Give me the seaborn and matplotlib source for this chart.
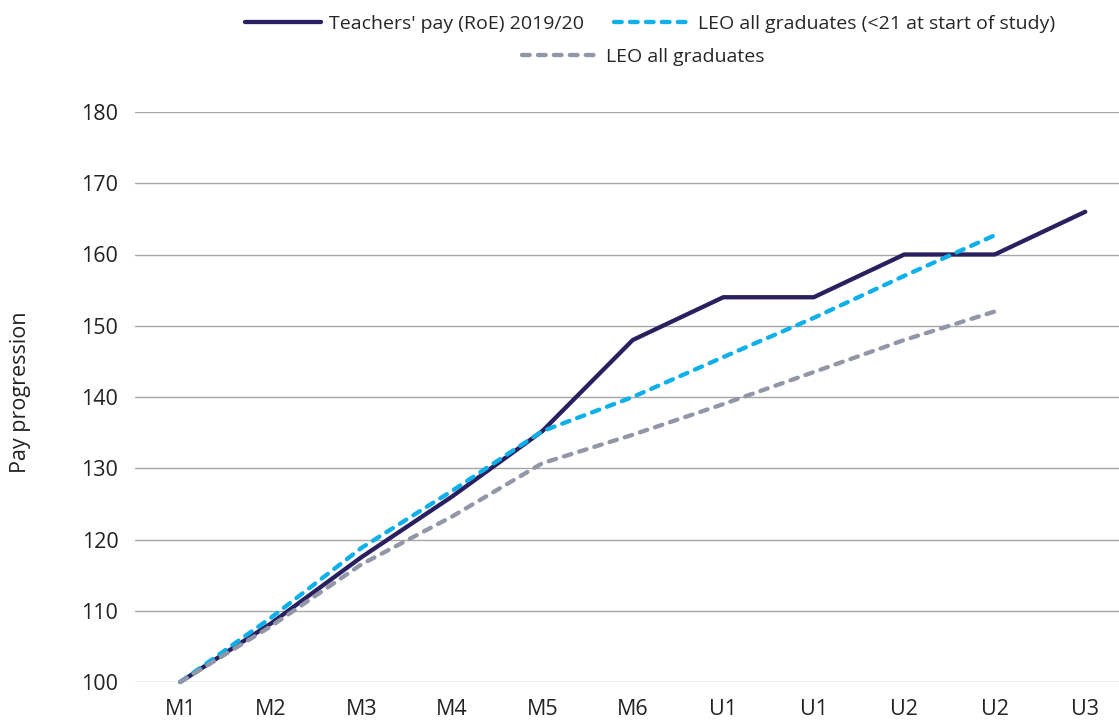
import matplotlib
matplotlib.use("Agg")
import matplotlib.pyplot as plt
import seaborn as sns
import pandas as pd

grades = ["M1", "M2", "M3", "M4", "M5", "M6", "U1", "U1", "U2", "U2", "U3"]
teachers_pay = [100, 108.2, 117.5, 126, 135.2, 148, 154, 154, 160, 160, 166]
leo_under21 = [100, 109, 118.8, 126.8, 135.2, 140, 145.6, 151.1, 157, 162.7]
leo_all = [100, 107.8, 116.5, 123.2, 130.7, 134.7, 139, 143.5, 148, 152]

names = ["Teachers' pay (RoE) 2019/20",
         "LEO all graduates (<21 at start of study)",
         "LEO all graduates"]
colors = {names[0]: "#2a1f5f", names[1]: "#0db0e8", names[2]: "#9396a6"}
dashes = {names[0]: "", names[1]: (1.8, 1.9), names[2]: (1.8, 1.9)}

rows = []
for name, vals in zip(names, [teachers_pay, leo_under21, leo_all]):
    for i, v in enumerate(vals):
        rows.append({"pos": i, "value": v, "series": name})
df = pd.DataFrame(rows)

sns.set_style("white")
plt.rcParams["font.family"] = ["Open Sans", "DejaVu Sans"]
fs = 15.5
leg_fs = 14

fig = plt.figure(figsize=(11.19, 7.2), dpi=100)
ax = fig.add_axes([135 / 1119, 38 / 720, 995.5 / 1119, 570 / 720])

sns.lineplot(data=df, x="pos", y="value", hue="series", style="series",
             palette=colors, dashes=dashes, linewidth=3.1, legend=False,
             ax=ax, sort=False)

for line in ax.lines:
    line.set_dash_capstyle("round")
    line.set_solid_capstyle("round")
    line.set_clip_on(False)

ax.set_xlim(-0.5, len(grades) - 0.5)
ax.set_ylim(100, 180)
ax.set_yticks(range(100, 181, 10))
ax.set_xticks(range(len(grades)))
ax.set_xticklabels(grades)
ax.tick_params(axis="both", labelsize=fs, colors="#222222", length=0)
ax.tick_params(axis="x", pad=12)
ax.tick_params(axis="y", pad=12)
ax.grid(axis="y", color="#a6a6a6", linewidth=1)
ax.grid(axis="x", visible=False)
for s in ax.spines.values():
    s.set_visible(False)
ax.set_xlabel("")
ax.set_ylabel("Pay progression", fontsize=fs, color="#222222")
ax.yaxis.set_label_coords((31 - 135) / 995.5, (682 - 392) / 570)

handles = ax.lines
fig.legend(handles[:2], names[:2], ncol=2, loc="center",
           bbox_to_anchor=(650 / 1119, 1 - 24 / 720), frameon=False,
           fontsize=leg_fs, handlelength=3.9, handletextpad=0.41,
           columnspacing=1.55, borderpad=0)
fig.legend(handles[2:3], names[2:3], loc="center",
           bbox_to_anchor=(643 / 1119, 1 - 57 / 720), frameon=False,
           fontsize=leg_fs, handlelength=3.9, handletextpad=0.41, borderpad=0)

fig.savefig("out.png", dpi=100)
